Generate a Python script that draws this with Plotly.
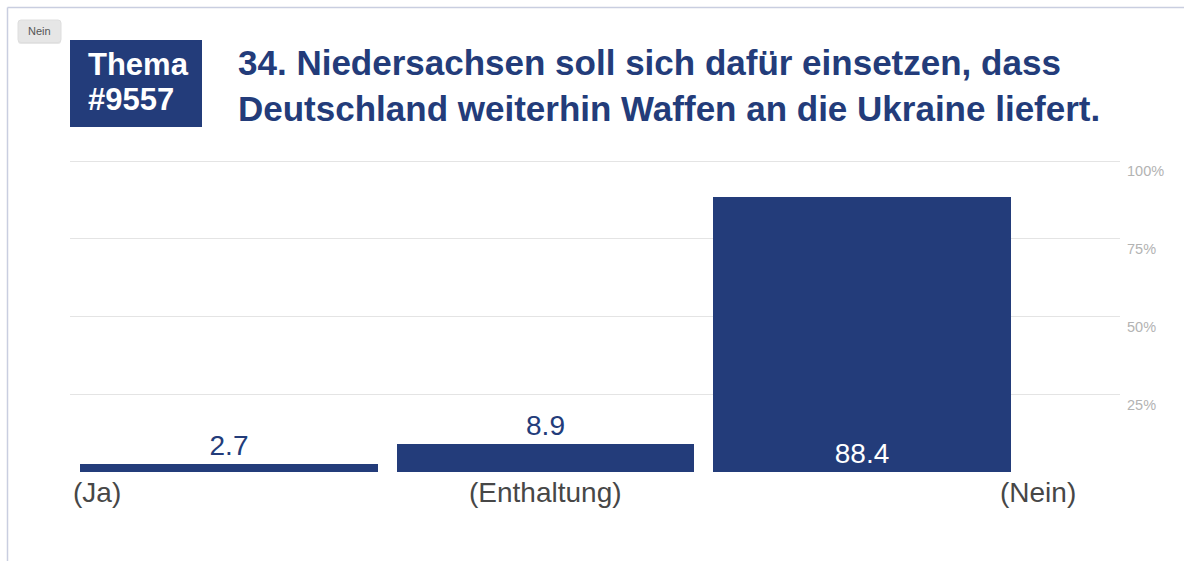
import plotly.graph_objects as go

# Poll result for question 34 (percent of votes)
categories = ["Ja", "Enthaltung", "Nein"]
values = [2.7, 8.9, 88.4]
axis_labels = ["(Ja)", "(Enthaltung)", "(Nein)"]
tick_values = [25, 50, 75, 100]
tick_labels = ["25%", "50%", "75%", "100%"]
topic_lines = ["Thema", "#9557"]
question = "34. Niedersachsen soll sich dafür einsetzen, dass<br>Deutschland weiterhin Waffen an die Ukraine liefert."
button_text = "Nein"

NAVY = "#233c7a"
FONT = "Liberation Sans, Arial, Helvetica, sans-serif"

W, H = 1184, 561
M_L, M_R, M_T, M_B = 70, 64, 160, 89
PW, PH = W - M_L - M_R, H - M_T - M_B
Y_MAX = 100.4


def px(x):
    return (x - M_L) / PW


def py(y):
    return (H - M_B - y) / PH


def rounded_rect(x0, y0, x1, y1, r):
    """SVG path for a rounded rectangle, given in page pixels, returned in paper units."""
    X = lambda v: px(v)
    Y = lambda v: py(v)
    return (f"M {X(x0 + r)},{Y(y0)} L {X(x1 - r)},{Y(y0)} Q {X(x1)},{Y(y0)} {X(x1)},{Y(y0 + r)} "
            f"L {X(x1)},{Y(y1 - r)} Q {X(x1)},{Y(y1)} {X(x1 - r)},{Y(y1)} "
            f"L {X(x0 + r)},{Y(y1)} Q {X(x0)},{Y(y1)} {X(x0)},{Y(y1 - r)} "
            f"L {X(x0)},{Y(y0 + r)} Q {X(x0)},{Y(y0)} {X(x0 + r)},{Y(y0)} Z")


x_pos = list(range(len(categories)))

fig = go.Figure()
fig.add_trace(go.Bar(
    x=x_pos,
    y=values,
    width=0.94,
    marker=dict(color=NAVY, line=dict(width=0)),
    text=[f"{v:.1f}" for v in values],
    textposition="auto",
    insidetextanchor="start",
    insidetextfont=dict(family=FONT, size=28, color="white"),
    outsidetextfont=dict(family=FONT, size=28, color=NAVY),
    cliponaxis=False,
    hoverinfo="skip",
))

label_font = dict(family=FONT, size=28, color="#474747")
annotations = [
    # topic badge text
    dict(xref="paper", yref="paper", x=px(86), y=py(64), xanchor="left", yanchor="middle",
         text=topic_lines[0], showarrow=False,
         font=dict(family=FONT, size=31, color="white", weight="bold")),
    dict(xref="paper", yref="paper", x=px(86), y=py(99), xanchor="left", yanchor="middle",
         text=topic_lines[1], showarrow=False,
         font=dict(family=FONT, size=31, color="white", weight="bold")),
    # question title
    dict(xref="paper", yref="paper", x=px(236), y=py(41), xanchor="left", yanchor="top",
         text=question, showarrow=False, align="left",
         font=dict(family=FONT, size=35, color=NAVY, weight="bold")),
    # small button caption
    dict(xref="paper", yref="paper", x=px(39.5), y=py(31), xanchor="center", yanchor="middle",
         text=button_text, showarrow=False,
         font=dict(family=FONT, size=11, color="#555555")),
    # category labels under the axis
    dict(xref="paper", yref="paper", x=px(71), y=py(492), xanchor="left", yanchor="middle",
         text=axis_labels[0], showarrow=False, font=label_font),
    dict(xref="x", yref="paper", x=x_pos[1], y=py(492), xanchor="center", yanchor="middle",
         text=axis_labels[1], showarrow=False, font=label_font),
    dict(xref="paper", yref="paper", x=px(1078), y=py(492), xanchor="right", yanchor="middle",
         text=axis_labels[2], showarrow=False, font=label_font),
]

shapes = [
    # page frame
    dict(type="line", xref="paper", yref="paper", x0=px(7.5), x1=px(W + 5), y0=py(7.5), y1=py(7.5),
         line=dict(color="#c9cee0", width=1.5), layer="below"),
    dict(type="line", xref="paper", yref="paper", x0=px(7.5), x1=px(7.5), y0=py(7.5), y1=py(H + 5),
         line=dict(color="#c9cee0", width=1.5), layer="below"),
    # topic badge
    dict(type="rect", xref="paper", yref="paper", x0=px(70), x1=px(202), y0=py(127), y1=py(40),
         fillcolor=NAVY, line=dict(width=0), layer="below"),
    # small button with soft shadow
    dict(type="path", xref="paper", yref="paper", path=rounded_rect(18, 21, 61, 44, 3),
         fillcolor="#d6d6d6", line=dict(width=0), layer="below", opacity=0.6),
    dict(type="path", xref="paper", yref="paper", path=rounded_rect(18, 20, 61, 42.5, 3),
         fillcolor="#e6e6e6", line=dict(color="#dedede", width=1), layer="below"),
]

fig.update_layout(
    width=W, height=H,
    margin=dict(l=M_L, r=M_R, t=M_T, b=M_B, pad=0),
    paper_bgcolor="white", plot_bgcolor="white",
    showlegend=False,
    bargap=0,
    annotations=annotations,
    shapes=shapes,
    xaxis=dict(range=[-0.502, 2.815], showticklabels=False, showgrid=False,
               zeroline=False, showline=False, ticks=""),
    yaxis=dict(range=[0, Y_MAX], side="right", tickvals=tick_values, ticktext=tick_labels,
               ticklabelposition="outside bottom", showgrid=True, gridcolor="#e4e4e4",
               gridwidth=1, zeroline=False, showline=False, ticks="",
               tickfont=dict(family=FONT, size=14.5, color="#b3b3b3"), ticklabelstandoff=6),
)

fig.write_html("out.html")
